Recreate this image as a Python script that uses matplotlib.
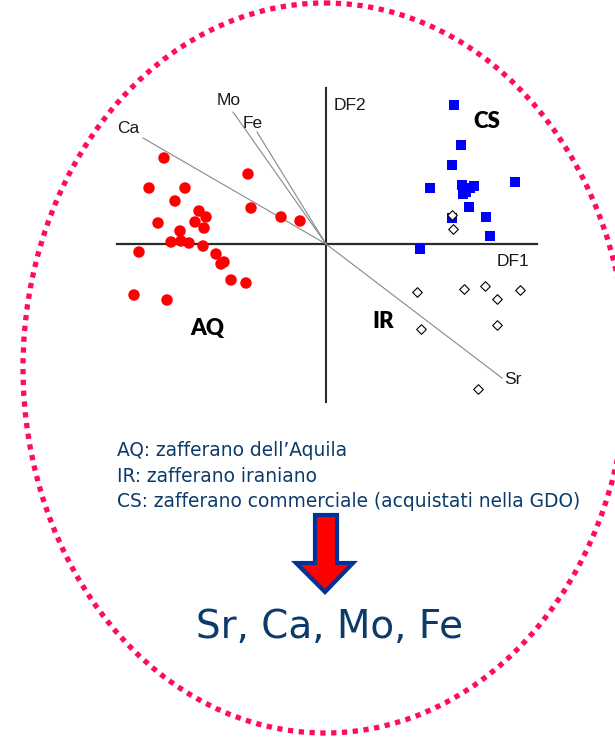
import numpy as np
import matplotlib
matplotlib.use('Agg')
import matplotlib.pyplot as plt
from matplotlib.patches import Ellipse, Polygon

# Discriminant scores (DF1, DF2) for each saffron group
aq_df1 = [-8.1, -3.9, -8.85, -7.05, -7.55, -3.75, -6.35, -6.0, -6.55, -6.1, -8.4,
          -2.25, -1.3, -7.3, -7.75, -7.25, -6.85, -6.15, -9.35, -5.5, -5.25,
          -5.1, -4.75, -4.0, -9.6, -7.95]
aq_df2 = [4.3, 3.5, 2.8, 2.8, 2.15, 1.8, 1.65, 1.35, 1.1, 0.8, 1.05,
          1.35, 1.15, 0.65, 0.1, 0.15, 0.05, -0.1, -0.4, -0.5, -1.0,
          -0.9, -1.8, -1.95, -2.55, -2.8]

cs_df1 = [6.4, 6.75, 6.3, 5.2, 6.8, 7.4, 7.0, 7.2, 6.85, 9.45, 7.15, 6.3, 8.0, 8.2, 4.7]
cs_df2 = [6.95, 4.95, 3.95, 2.8, 2.95, 2.9, 2.6, 2.8, 2.5, 3.1, 1.85, 1.3, 1.35, 0.4, -0.25]

ir_df1 = [6.3, 6.35, 4.55, 6.9, 7.95, 8.55, 9.7, 4.75, 8.55, 7.6]
ir_df2 = [1.45, 0.75, -2.4, -2.25, -2.1, -2.75, -2.3, -4.25, -4.05, -7.25]

# Loading vectors of the elements
elements = ['Ca', 'Mo', 'Fe', 'Sr']
load_df1 = [-9.15, -4.65, -3.45, 8.8]
load_df2 = [5.3, 6.6, 5.6, -6.7]

legend_lines = ["AQ: zafferano dell\u2019Aquila",
                "IR: zafferano iraniano",
                "CS: zafferano commerciale (acquistati nella GDO)"]
result_text = "Sr, Ca, Mo, Fe"

W, H = 615, 737
fig = plt.figure(figsize=(W / 100, H / 100), dpi=100)
fig.patch.set_facecolor('white')

# overlay in pixel units for the frame, arrow and captions
bg = fig.add_axes([0, 0, 1, 1])
bg.set_xlim(0, W)
bg.set_ylim(H, 0)
bg.axis('off')

pink = '#ff0a64'
navy = '#0b3a6b'
ell = Ellipse((325, 368), 604, 730, fill=False, edgecolor=pink, linewidth=3.8,
              linestyle=(0, (1, 1.05)))
bg.add_patch(ell)

# scatter plot of the discriminant analysis
ax = fig.add_axes([100 / W, 1 - 410 / H, 460 / W, 330 / H])
ax.set_xlim(-11.3, 11.7)
ax.set_ylim(-8.3, 8.2)
ax.axis('off')

ax.plot([-10.45, 10.55], [0, 0], color='#2a2a2a', lw=1.6, zorder=1)
ax.plot([0, 0], [-7.9, 7.8], color='#2a2a2a', lw=1.5, zorder=1)

for name, dx, dy in zip(elements, load_df1, load_df2):
    ax.plot([0, dx], [0, dy], color='#888888', lw=0.8, zorder=1)

lbl = dict(family='Liberation Sans', fontsize=12.5, color='#1a1a1a')
ax.text(load_df1[0] - 0.2, load_df2[0] + 0.1, 'Ca', ha='right', va='bottom', **lbl)
ax.text(load_df1[1] - 0.2, load_df2[1] + 0.2, 'Mo', ha='center', va='bottom', **lbl)
ax.text(load_df1[2] - 0.2, load_df2[2] + 0.05, 'Fe', ha='center', va='bottom', **lbl)
ax.text(load_df1[3] + 0.1, load_df2[3] - 0.1, 'Sr', ha='left', va='center', **lbl)
ax.text(0.4, 6.95, 'DF2', ha='left', va='center', **lbl)
ax.text(9.35, -0.9, 'DF1', ha='center', va='center', **lbl)

ax.scatter(aq_df1, aq_df2, s=68, marker='o', color='#ff0000', edgecolors='none', zorder=3)
ax.scatter(cs_df1, cs_df2, s=52, marker='s', color='#0000ff', edgecolors='none', zorder=3)
ax.scatter(ir_df1, ir_df2, s=24, marker='D', facecolor='white', edgecolors='black',
           linewidths=0.8, zorder=4)

grp = dict(family='Lato', fontweight='heavy', fontsize=16, color='black',
           ha='center', va='center')
ax.text(-5.95, -4.25, 'AQ', **grp)
ax.text(8.05, 6.15, 'CS', **grp)
ax.text(2.85, -3.9, 'IR', **grp)

# captions under the plot
for i, line in enumerate(legend_lines):
    bg.text(117, 456 + i * 25.5, line, ha='left', va='baseline',
            family='DejaVu Sans', fontsize=13.4, color=navy)

arrow = Polygon([[315, 515], [337, 515], [337, 563], [353, 563],
                 [325, 592], [296, 563], [315, 563]], closed=True,
                facecolor='#ff0000', edgecolor='#003399', linewidth=3,
                joinstyle='miter')
bg.add_patch(arrow)

bg.text(330, 638, result_text, ha='center', va='baseline',
        family='DejaVu Sans', fontsize=28, color=navy)

fig.savefig('out.png', dpi=100)
